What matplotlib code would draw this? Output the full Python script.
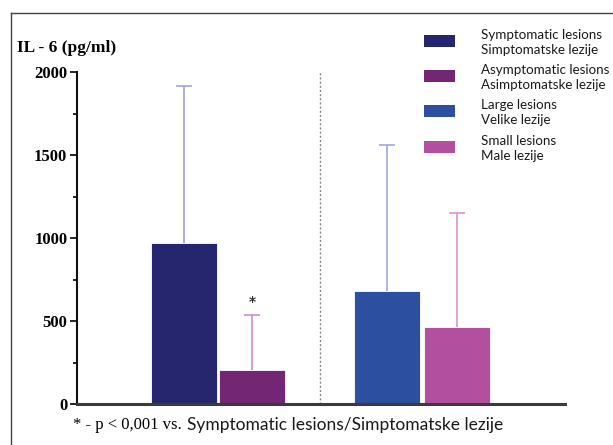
import numpy as np
import matplotlib
matplotlib.use("Agg")
import matplotlib.pyplot as plt
from matplotlib.lines import Line2D
from matplotlib.patches import Rectangle

# data
groups = ["Symptomatic lesions\nSimptomatske lezije",
          "Asymptomatic lesions\nAsimptomatske lezije",
          "Large lesions\nVelike lezije",
          "Small lesions\nMale lezije"]
means = [970, 205, 681, 464]
sd_upper = [946, 331, 879, 687]   # upper error bar length
bar_colors = ["#26266e", "#732673", "#2d4fa0", "#b24f9e"]
err_colors = ["#9a9ad6", "#c585cc", "#9aa0dc", "#de86cc"]
yticks = [0, 500, 1000, 1500, 2000]

W, H = 613, 445
fig = plt.figure(figsize=(W / 100, H / 100), dpi=100)

# axes placed in pixel terms
ax_l, ax_r, ax_b, ax_t = 77, 565, 404, 72
ax = fig.add_axes([ax_l / W, 1 - ax_b / H, (ax_r - ax_l) / W, (ax_b - ax_t) / H])

pos = [1.62, 2.65, 4.7, 5.75]
bw = 1.0
for i in range(len(means)):
    ax.bar(pos[i], means[i], width=bw, color=bar_colors[i], edgecolor="white", linewidth=0.6, zorder=2)
    eb = ax.errorbar(pos[i], means[i], yerr=[[0], [sd_upper[i]]], color=err_colors[i],
                     elinewidth=1.1, capsize=5.5, capthick=1.1, zorder=1)
    eb[1][0].set_visible(False)  # no cap at the bar top

ax.text(pos[1], means[1] + sd_upper[1] + 35, "*", ha="center", va="bottom",
        fontsize=10, fontweight="bold", color="#333333", fontfamily="DejaVu Sans")

ax.axvline(3.68, color="#888888", linestyle=(0, (1.5, 1.5)), linewidth=1.0)

ax.set_xlim(0, (ax_r - ax_l) / 66)
ax.set_ylim(0, 2000)
ax.set_yticks(yticks)
ax.set_yticks(np.arange(250, 2000, 500), minor=True)
ax.set_yticklabels([str(t) for t in yticks], fontfamily="Liberation Serif",
                   fontweight="bold", fontsize=12)
ax.tick_params(axis="y", which="major", direction="out", length=5, width=1.2, pad=2)
ax.tick_params(axis="y", which="minor", direction="out", length=3, width=1.2)
ax.tick_params(axis="x", bottom=False, labelbottom=False)
for s in ["top", "right"]:
    ax.spines[s].set_visible(False)
ax.spines["left"].set_linewidth(1.5)
ax.spines["left"].set_color("#111111")
ax.spines["bottom"].set_linewidth(2.2)
ax.spines["bottom"].set_color("#3a3a3a")

# title / y label
fig.text(17 / W, 1 - 48 / H, "IL - 6 (pg/ml)", fontfamily="Liberation Serif",
         fontweight="bold", fontsize=12.5, va="center", ha="left")

# frame lines
fig.add_artist(Line2D([11 / W, 11 / W], [0, 1 - 13 / H], color="#444444", linewidth=1.0))
fig.add_artist(Line2D([11 / W, 1], [1 - 13 / H, 1 - 13 / H], color="#444444", linewidth=1.0))

# legend drawn by hand
box_y = [41, 76, 111, 147]
for i in range(len(groups)):
    yc = box_y[i]
    fig.add_artist(Rectangle((424 / W, 1 - (yc + 5.5) / H), 31 / W, 11 / H,
                             facecolor=bar_colors[i], edgecolor="none"))
    fig.text(481 / W, 1 - (yc + 1.5) / H, groups[i], fontfamily="Lato", fontsize=9.6,
             va="center", ha="left", linespacing=1.3, color="#1a1a1a")

# footnote
fig.text(73 / W, 1 - 425 / H, "* - p < 0,001 vs.", fontfamily="Liberation Serif",
         fontsize=12, va="center", ha="left")
fig.text(187 / W, 1 - 425 / H, "Symptomatic lesions/Simptomatske lezije", fontfamily="Lato",
         fontsize=12.5, va="center", ha="left", color="#1a1a1a")

fig.savefig("out.png", dpi=100)
